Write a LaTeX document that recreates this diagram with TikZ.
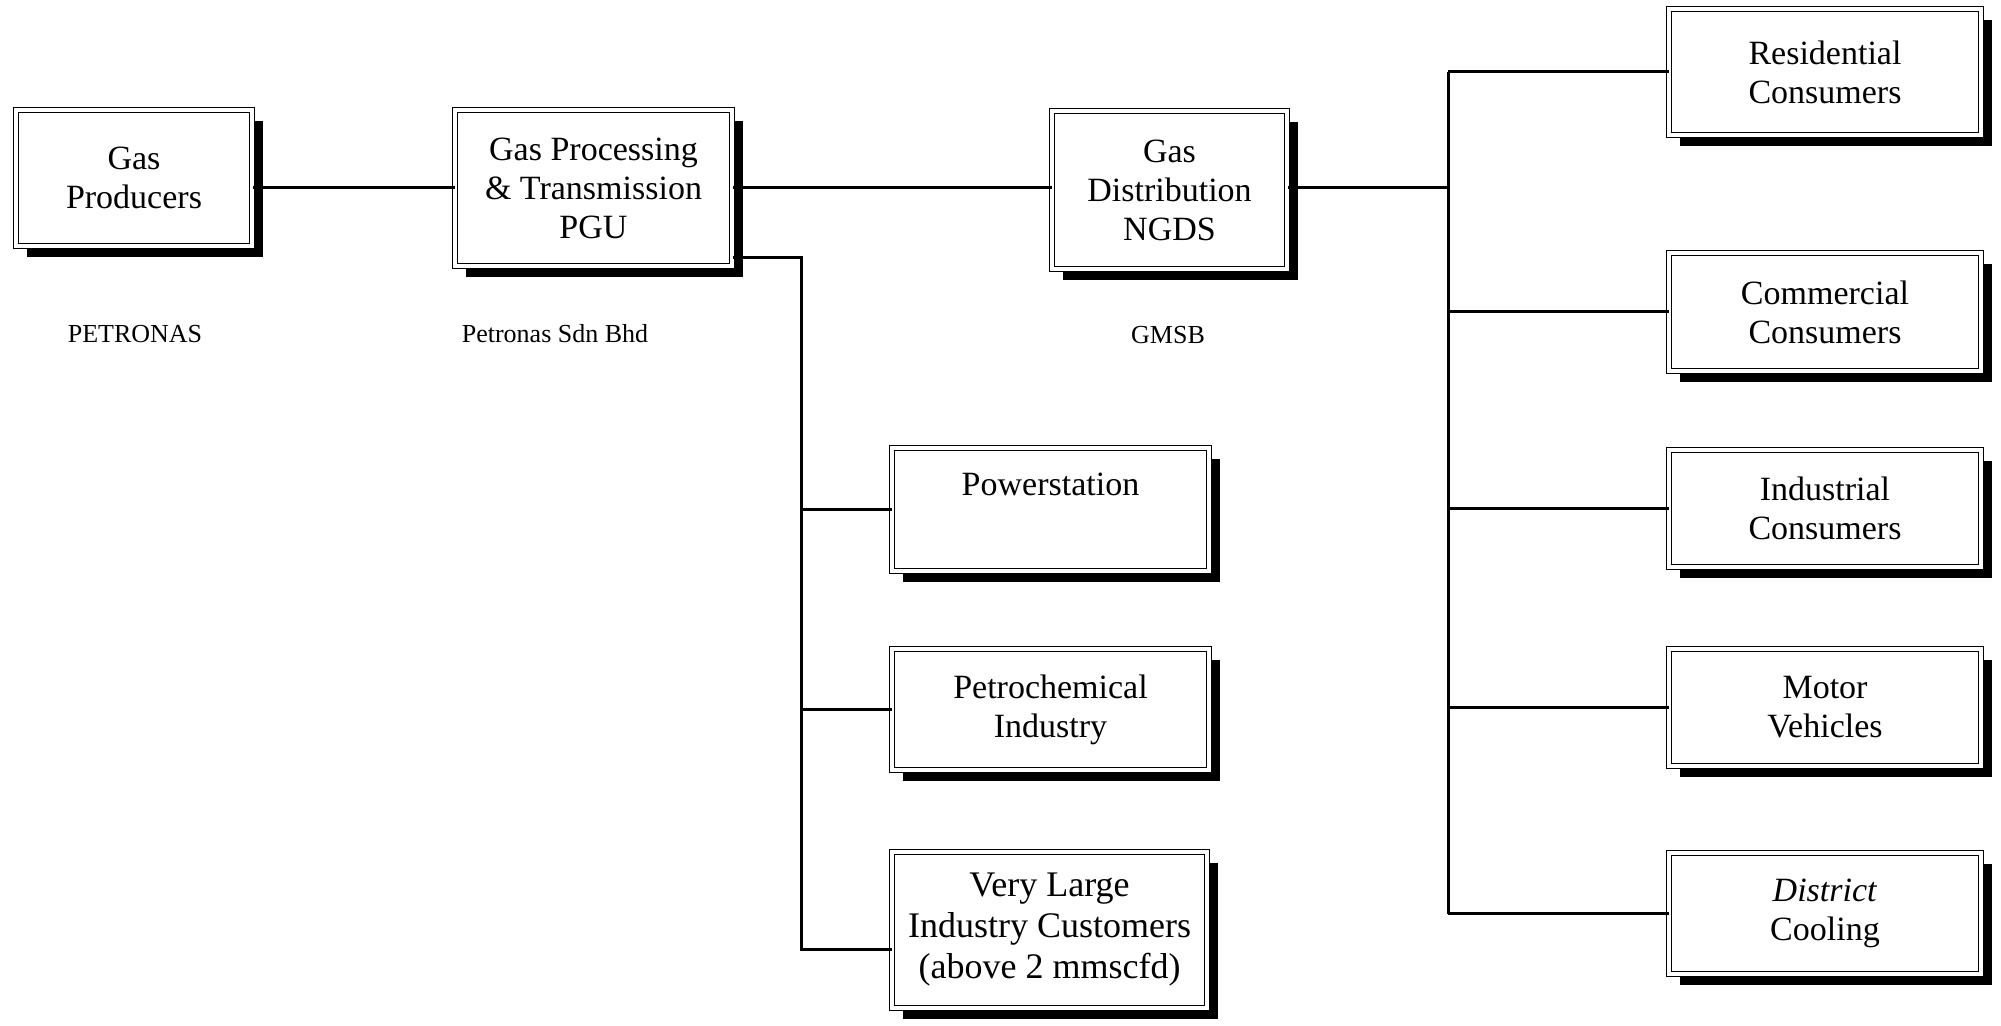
\documentclass[tikz,border=0pt]{standalone}
\usepackage{fontspec}
\setmainfont{Liberation Serif}
\usetikzlibrary{shadows}
\tikzset{
  gasbox/.style={draw, double, double distance=2pt, line width=0.5pt, fill=white,
    drop shadow={shadow xshift=5.5pt, shadow yshift=-5.5pt, opacity=1, fill=black},
    align=center, inner sep=0pt, font=\fontsize{17}{19.5}\selectfont},
  orglabel/.style={font=\fontsize{13}{15}\selectfont},
  pipe/.style={line width=1.5pt}
}
\begin{document}
\begin{tikzpicture}[x=0.5pt,y=-0.5pt]
\useasboundingbox (0,0) rectangle (2001,1026);
% main chain
\node(prod)[gasbox, minimum width=118pt, minimum height=68pt] at (134,178){Gas\\Producers};
\node(proc)[gasbox, minimum width=138.5pt, minimum height=78pt] at (593.5,188){Gas Processing\\\& Transmission\\PGU};
\node(dist)[gasbox, minimum width=117.5pt, minimum height=79pt] at (1169.5,190){Gas\\Distribution\\NGDS};
\node(lprod)[orglabel] at (135,334){PETRONAS};
\node(lproc)[orglabel] at (555,334){Petronas Sdn Bhd};
\node(ldist)[orglabel] at (1168,335){GMSB};
% direct customers
\node(power)[gasbox, minimum width=158.5pt, minimum height=61.5pt] at (1050.5,509.5){Powerstation\\\strut};
\node(petchem)[gasbox, minimum width=158.5pt, minimum height=60.5pt] at (1050.5,709.5){Petrochemical\\Industry};
\node(vlic)[gasbox, minimum width=157.5pt, minimum height=78pt, font=\fontsize{18}{20.5}\selectfont] at (1049.5,930){Very Large\\Industry Customers\\(above 2 mmscfd)};
% distribution customers
\node(resid)[gasbox, minimum width=156pt, minimum height=63pt] at (1825,72){Residential\\Consumers};
\node(comm)[gasbox, minimum width=156pt, minimum height=59pt] at (1825,312){Commercial\\Consumers};
\node(indus)[gasbox, minimum width=156pt, minimum height=58.5pt] at (1825,508.5){Industrial\\Consumers};
\node(motor)[gasbox, minimum width=156pt, minimum height=58.5pt] at (1825,707.5){Motor\\Vehicles};
\node(dcool)[gasbox, minimum width=156pt, minimum height=60.5pt] at (1825,913.5){\textit{District}\\Cooling};
% pipes
\coordinate(jl) at (801,258);
\coordinate(jlb) at (801,949);
\coordinate(jr) at (1448,188);
\draw[pipe] (prod.east |- proc.west) -- (proc.west);
\draw[pipe] (proc.east) -- (proc.east -| dist.west);
\draw[pipe] (proc.east |- jl) -- (jl) -- (jlb) -- (jlb -| vlic.west);
\draw[pipe] (power.west -| jl) -- (power.west);
\draw[pipe] (petchem.west -| jl) -- (petchem.west);
\draw[pipe] (dist.east |- jr) -- (jr);
\draw[pipe] (jr |- resid.west) -- (jr |- dcool.west);
\foreach \n in {resid,comm,indus,motor,dcool}
  \draw[pipe] (\n.west -| jr) -- (\n.west);
\end{tikzpicture}
\end{document}
